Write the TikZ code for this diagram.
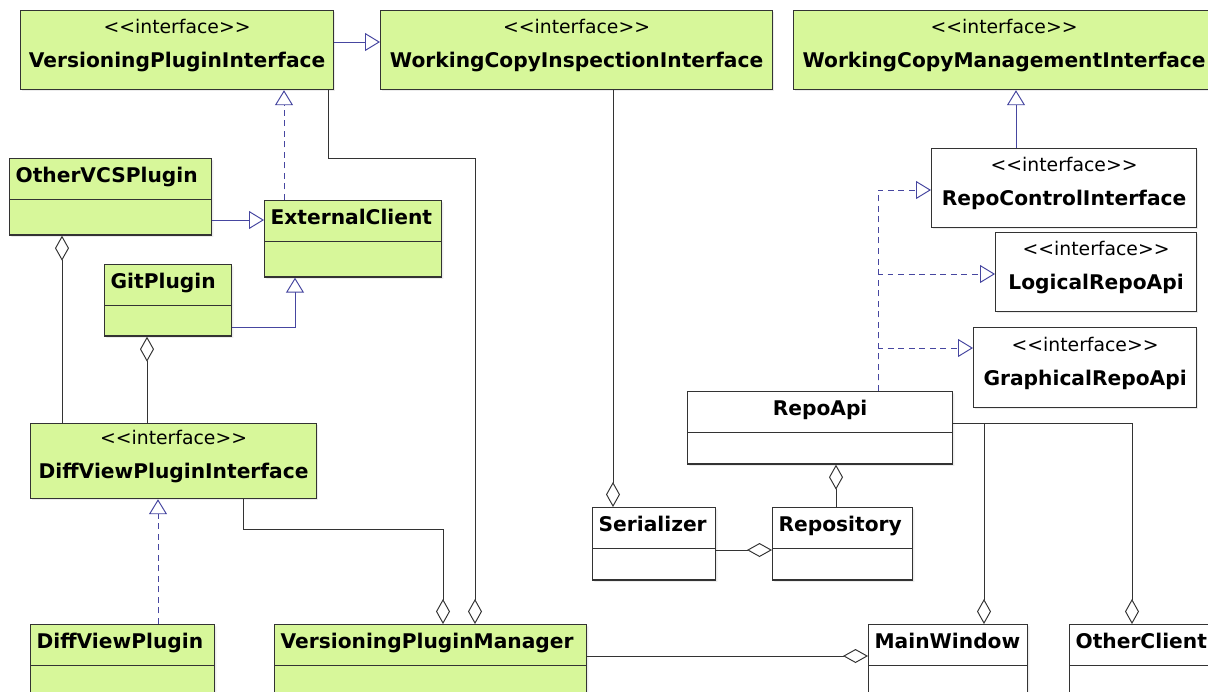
\documentclass[tikz,border=0pt]{standalone}
\usepackage{fontspec}
\setmainfont{DejaVu Sans}
\usetikzlibrary{arrows.meta,shapes.multipart,shadows}
\definecolor{UmlGreen}{HTML}{D7F79A}
\definecolor{UmlLine}{HTML}{333333}
\definecolor{UmlBlue}{HTML}{4646A0}
\newcommand{\stereo}{\rule{0pt}{0.42cm}{\mdseries\fontsize{10.7}{13}\selectfont<\kern0pt<interface>\kern0pt>}}
\newcommand{\iname}[1]{\rule[-0.4cm]{0pt}{1.04cm}#1}
\newcommand{\cname}[1]{\rule[-0.34cm]{0pt}{0.8cm}#1}
\newcommand{\cbody}[1]{\rule{0pt}{#1}}
\tikzset{iface/.style={draw=UmlLine,line width=0.7pt,fill=UmlGreen,align=center,anchor=north west,inner xsep=0.06cm,inner ysep=0pt,minimum height=1.58cm,font=\fontsize{11.5}{14}\selectfont\bfseries,drop shadow={shadow xshift=0.035cm,shadow yshift=-0.035cm,opacity=0.15}}, ifaceW/.style={iface,fill=white}, cls/.style={iface,rectangle split,rectangle split parts=2,rectangle split part align=left,inner xsep=0.12cm,minimum height=0pt}, clsW/.style={cls,fill=white}, generalize/.style={draw=UmlBlue,line width=0.55pt,-{Triangle[open,length=0.3cm,width=0.36cm]}}, realize/.style={generalize,dash pattern=on 3.4pt off 2.6pt}, aggregate/.style={draw=UmlLine,line width=0.55pt,{Diamond[open,length=0.5cm,width=0.28cm]}-}}
\begin{document}
\begin{tikzpicture}[x=0.02cm,y=-0.02cm]
\path[use as bounding box,fill=white] (0,0) rectangle (1208,691);
\clip (0,0) rectangle (1208,691);
\node[iface,minimum width=6.26cm] (vpi) at (20,10) {\stereo\\\iname{VersioningPluginInterface}};\node[iface,minimum width=7.84cm] (wcii) at (380,10) {\stereo\\\iname{WorkingCopyInspectionInterface}};\node[iface,minimum width=8.42cm] (wcmi) at (793,10) {\stereo\\\iname{WorkingCopyManagementInterface}};
\node[ifaceW,minimum width=5.3cm] (rci) at (931,148) {\stereo\\\iname{RepoControlInterface}};\node[ifaceW,minimum width=4.02cm] (lra) at (995,232) {\stereo\\\iname{LogicalRepoApi}};\node[ifaceW,minimum width=4.46cm,minimum height=1.6cm] (gra) at (973,327) {\stereo\\\iname{GraphicalRepoApi}};
\node[iface,minimum width=5.72cm,minimum height=1.5cm] (dvpi) at (30,423) {\stereo\\\iname{DiffViewPluginInterface}};
\node[cls,minimum width=4.04cm] (ovcs) at (9,158) {\cname{OtherVCSPlugin}\nodepart{two}\cbody{0.68cm}};\node[cls,minimum width=3.54cm] (extc) at (264,200) {\cname{ExternalClient}\nodepart{two}\cbody{0.68cm}};\node[cls,minimum width=2.54cm] (gitp) at (104,264) {\cname{GitPlugin}\nodepart{two}\cbody{0.58cm}};
\node[cls,minimum width=3.68cm] (dvp) at (30,624) {\cname{DiffViewPlugin}\nodepart{two}\cbody{0.8cm}};\node[cls,minimum width=6.24cm] (vpm) at (274,624) {\cname{VersioningPluginManager}\nodepart{two}\cbody{0.8cm}};
\node[clsW,minimum width=5.3cm,rectangle split part align=center] (rapi) at (687,391) {\cname{RepoApi}\nodepart{two}\cbody{0.6cm}};\node[clsW,minimum width=2.46cm] (ser) at (592,507) {\cname{Serializer}\nodepart{two}\cbody{0.6cm}};\node[clsW,minimum width=2.8cm] (repo) at (772,507) {\cname{Repository}\nodepart{two}\cbody{0.6cm}};
\node[clsW,minimum width=3.18cm] (mwin) at (868,624) {\cname{MainWindow}\nodepart{two}\cbody{0.8cm}};\node[clsW,minimum width=3.2cm] (oc) at (1069,624) {\cname{OtherClient}\nodepart{two}\cbody{0.8cm}};
\draw[generalize] (vpi.east |- 0,42)--(wcii.west |- 0,42);\draw[realize] (extc.north -| 284,0)--(vpi.south -| 284,0);\draw[generalize] (ovcs.east |- 0,220)--(extc.west |- 0,220);\draw[generalize] (gitp.east |- 0,327) -| (extc.south -| 295,0);
\draw[realize] (dvp.north -| 158,0)--(dvpi.south -| 158,0);\draw[generalize] (rci.north -| 1016,0)--(wcmi.south -| 1016,0);
\draw[realize] (rapi.north -| 878,0) |- (rci.west |- 0,190);\draw[realize] (rapi.north -| 878,0) |- (lra.west |- 0,274);\draw[realize] (rapi.north -| 878,0) |- (gra.west |- 0,348);
\draw[aggregate] (vpm.north -| 475,0)--++(0,-466) -| (vpi.south -| 328,0);\draw[aggregate] (vpm.north -| 443,0)--++(0,-95) -| (dvpi.south -| 243,0);
\draw[aggregate] (ovcs.south -| 62,0)--(dvpi.north -| 62,0);\draw[aggregate] (gitp.south -| 147,0)--(dvpi.north -| 147,0);
\draw[aggregate] (ser.north -| 613,0)--(wcii.south -| 613,0);\draw[aggregate] (repo.west |- 0,550)--(ser.east |- 0,550);\draw[aggregate] (rapi.south -| 836,0)--(repo.north -| 836,0);
\draw[aggregate] (mwin.north -| 984,0) |- (rapi.east |- 0,423);\draw[aggregate] (oc.north -| 1132,0) |- (rapi.east |- 0,423);\draw[aggregate] (mwin.west |- 0,656)--(vpm.east |- 0,656);
\end{tikzpicture}
\end{document}
